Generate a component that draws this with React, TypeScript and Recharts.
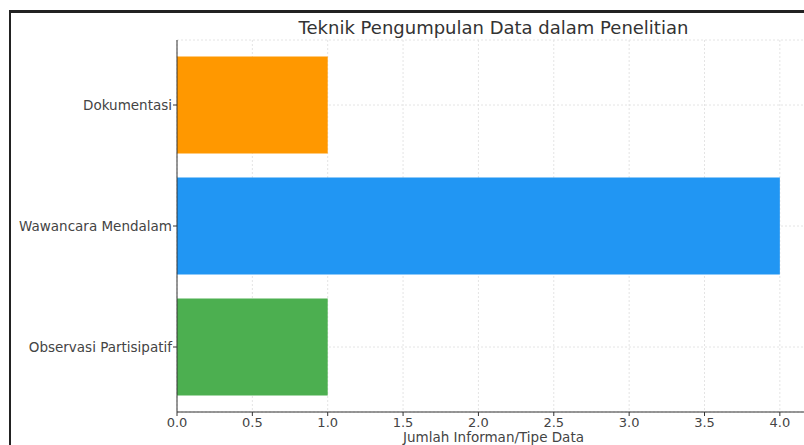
import { BarChart, Bar, XAxis, YAxis, CartesianGrid, Cell, Label } from 'recharts';

const techniques = ['Dokumentasi', 'Wawancara Mendalam', 'Observasi Partisipatif'];
const counts = [1, 4, 1];
const barColors = ['#FF9800', '#2196F3', '#4CAF50'];
const xTicks = [0, 0.5, 1, 1.5, 2, 2.5, 3, 3.5, 4];

const data = techniques.map((name, i) => ({ name, value: counts[i] }));

const font = 'DejaVu Sans, sans-serif';

const App = () => {
    return (
        <div
            style={{
                position: 'absolute',
                left: 0,
                top: 0,
                width: 804,
                height: 445,
                overflow: 'hidden',
                background: 'white',
                fontFamily: font,
            }}>
            {/* screenshot frame */}
            <div
                style={{
                    position: 'absolute',
                    left: 9,
                    top: 10,
                    width: 800,
                    height: 440,
                    borderTop: '3px solid #222',
                    borderLeft: '2px solid #222',
                }}
            />
            <div
                style={{
                    position: 'absolute',
                    left: 0,
                    top: 17,
                    width: 987,
                    textAlign: 'center',
                    fontSize: 18,
                    color: '#333',
                }}>
                Teknik Pengumpulan Data dalam Penelitian
            </div>
            <BarChart
                width={810}
                height={445}
                data={data}
                layout="vertical"
                margin={{ top: 40, right: 0, bottom: 0, left: 0 }}
                barCategoryGap={12}
                style={{ position: 'absolute', left: 0, top: 0 }}>
                <CartesianGrid stroke="#e4e4e4" strokeDasharray="2 2" />
                <XAxis
                    type="number"
                    domain={[0, 4.2]}
                    ticks={xTicks}
                    tickFormatter={(v) => Number(v).toFixed(1)}
                    height={33}
                    tickSize={4}
                    tickMargin={2}
                    stroke="#333"
                    tick={{ fill: '#444', fontSize: 13, fontFamily: font }}
                    allowDataOverflow>
                    <Label
                        value="Jumlah Informan/Tipe Data"
                        position="insideBottom"
                        offset={3}
                        style={{ fill: '#444', fontSize: 13.5, fontFamily: font }}
                    />
                </XAxis>
                <YAxis
                    type="category"
                    dataKey="name"
                    width={177}
                    padding={{ top: 4.5, bottom: 4.5 }}
                    tickSize={4}
                    tickMargin={1}
                    stroke="#333"
                    tick={{ fill: '#444', fontSize: 13.5, fontFamily: font }}
                />
                <Bar dataKey="value" isAnimationActive={false}>
                    {data.map((d, i) => (
                        <Cell key={d.name} fill={barColors[i]} />
                    ))}
                </Bar>
            </BarChart>
        </div>
    );
};

export default App;
